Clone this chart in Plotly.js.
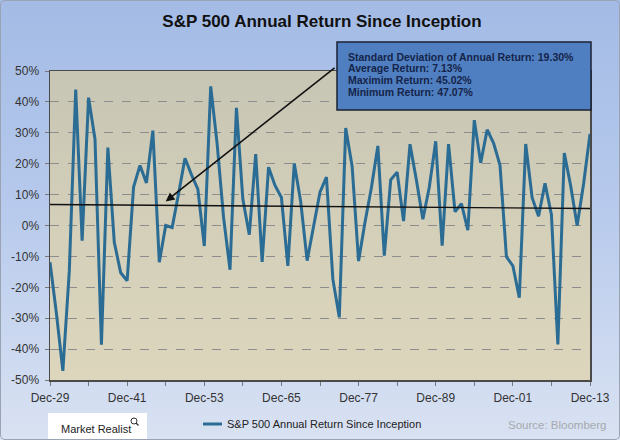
<!DOCTYPE html>
<html>
<head>
<meta charset="utf-8">
<script src="https://cdn.plot.ly/plotly-3.0.1.min.js"></script>
<style>
  html, body { margin: 0; padding: 0; }
  #wrap { position: relative; width: 620px; height: 440px; overflow: hidden;
          background: linear-gradient(to bottom, #a3bbe5 0%, #b6c9ec 45%, #d9e2f2 100%); }
  #plotbg { position: absolute; left: 50px; top: 71px; width: 540px; height: 309px;
            background: linear-gradient(to bottom, #c7c5b4 0%, #d3cfb9 50%, #ddd6bd 100%); }
  #chart { position: absolute; left: 0; top: 0; width: 620px; height: 440px; }
  #frame { position: absolute; left: 0; top: 0; width: 618px; height: 438px;
           border: 1px solid #9aa3b3; border-radius: 5px; pointer-events: none; }
</style>
</head>
<body>
<div id="wrap">
  <div id="plotbg"></div>
  <div id="chart"></div>
  <div id="frame"></div>
</div>
<script>
// ---- Data ----
const years = [1929,1930,1931,1932,1933,1934,1935,1936,1937,1938,
  1939,1940,1941,1942,1943,1944,1945,1946,1947,1948,
  1949,1950,1951,1952,1953,1954,1955,1956,1957,1958,
  1959,1960,1961,1962,1963,1964,1965,1966,1967,1968,
  1969,1970,1971,1972,1973,1974,1975,1976,1977,1978,
  1979,1980,1981,1982,1983,1984,1985,1986,1987,1988,
  1989,1990,1991,1992,1993,1994,1995,1996,1997,1998,
  1999,2000,2001,2002,2003,2004,2005,2006,2007,2008,
  2009,2010,2011,2012,2013];
const annualReturn = [-11.91,-28.48,-47.07,-14.78,44.02,-4.94,41.37,27.92,-38.59,25.21,
  -5.45,-15.29,-17.86,12.43,19.45,13.80,30.72,-11.87,0.00,-0.65,
  10.26,21.78,16.46,11.78,-6.62,45.02,26.40,2.62,-14.31,38.06,
  8.48,-2.97,23.13,-11.81,18.89,12.97,9.06,-13.09,20.09,7.66,
  -11.36,0.10,10.79,15.63,-17.37,-29.72,31.55,19.15,-11.50,1.06,
  12.31,25.77,-9.73,14.76,17.27,1.40,26.33,14.62,2.03,12.40,
  27.25,-6.56,26.31,4.46,7.06,-1.54,34.11,20.26,31.01,26.67,
  19.53,-10.14,-13.04,-23.37,26.38,8.99,3.00,13.62,3.53,-38.49,
  23.45,12.78,0.00,13.41,29.60];
const trendYears = [1929, 2013];
const trendValues = [6.8, 5.5];

const xTickVals = [1929,1941,1953,1965,1977,1989,2001,2013];
const xTickText = ["Dec-29","Dec-41","Dec-53","Dec-65","Dec-77","Dec-89","Dec-01","Dec-13"];
const yTickVals = [50,40,30,20,10,0,-10,-20,-30,-40,-50];
const yTickText = ["50%","40%","30%","20%","10%","0%","-10%","-20%","-30%","-40%","-50%"];

const seriesName = "S&P 500 Annual Return Since Inception";
const chartTitle = "S&P 500 Annual Return Since Inception";
const statLines = [
  "Standard Deviation of Annual Return: 19.30%",
  "Average Return: 7.13%",
  "Maximim Return: 45.02%",
  "Minimum Return: 47.07%"
];
const arrowHead = [1947, 7.8];
const arrowTail = [1973.5, 51.4];

// ---- Layout helpers ----
const L = 50, R = 590, T = 71, B = 380;
const px = x => (x - L) / (R - L);
const py = y => (B - y) / (B - T);
const FONT = "Liberation Sans, Arial, sans-serif";
const lineColor = "#2b6c94";

const traces = [
  { x: years, y: annualReturn, type: "scatter", mode: "lines", name: seriesName,
    line: { color: lineColor, width: 3 }, showlegend: false },
  { x: trendYears, y: trendValues, type: "scatter", mode: "lines", showlegend: false,
    line: { color: "#111111", width: 1.3 } }
];

const annotations = [
  { x: arrowHead[0], y: arrowHead[1], xref: "x", yref: "y",
    ax: arrowTail[0], ay: arrowTail[1], axref: "x", ayref: "y",
    text: "", showarrow: true, arrowhead: 2, arrowsize: 1.1, arrowwidth: 1.6, arrowcolor: "#111" }
];
const lineYs = [57, 68.5, 80, 91.5];
statLines.forEach((t, i) => annotations.push({
  xref: "paper", yref: "paper", x: px(346), y: py(lineYs[i]), xanchor: "left", yanchor: "middle",
  text: "<b>" + t + "</b>", showarrow: false,
  font: { family: FONT, size: 10.5, color: "#15244a" }
}));
annotations.push({ xref: "paper", yref: "paper", x: px(225), y: py(424), xanchor: "left", yanchor: "middle",
  text: seriesName, showarrow: false, font: { family: FONT, size: 11, color: "#222" } });
annotations.push({ xref: "paper", yref: "paper", x: px(59), y: py(429), xanchor: "left", yanchor: "middle",
  text: "Market Realist", showarrow: false, font: { family: FONT, size: 11, color: "#222" } });
annotations.push({ xref: "paper", yref: "paper", x: px(608), y: py(425), xanchor: "right", yanchor: "middle",
  text: "Source: Bloomberg", showarrow: false, font: { family: FONT, size: 11.5, color: "#a6a9ae" } });

const shapes = [
  { type: "rect", xref: "paper", yref: "paper", x0: px(337), x1: px(591), y0: py(42), y1: py(110),
    fillcolor: "#4f7fc0", line: { color: "#1a2233", width: 1.5 }, layer: "above" },
  { type: "rect", xref: "paper", yref: "paper", x0: px(48), x1: px(147), y0: py(413), y1: py(441),
    fillcolor: "#ffffff", line: { width: 0 }, layer: "below" },
  // small magnifier icon next to "Market Realist"
  { type: "circle", xref: "paper", yref: "paper", x0: px(131), x1: px(137), y0: py(424), y1: py(418),
    line: { color: "#333", width: 1 } },
  { type: "line", xref: "paper", yref: "paper", x0: px(136), x1: px(138.5), y0: py(423), y1: py(425.5),
    line: { color: "#333", width: 1.2 } },
  { type: "line", xref: "paper", yref: "paper", x0: px(203), x1: px(222), y0: py(424), y1: py(424),
    line: { color: lineColor, width: 3 } }
];

const layout = {
  width: 620, height: 440,
  margin: { l: L, r: 620 - R, t: T, b: 440 - B, pad: 0 },
  paper_bgcolor: "rgba(0,0,0,0)", plot_bgcolor: "rgba(0,0,0,0)",
  font: { family: FONT, size: 12, color: "#333" },
  title: { text: "<b>" + chartTitle + "</b>", xref: "container", yref: "container",
           x: 322 / 620, y: 1 - 21 / 440, xanchor: "center", yanchor: "middle",
           font: { family: FONT, size: 17, color: "#111" } },
  xaxis: { range: [1929, 2013], tickmode: "array", tickvals: xTickVals, ticktext: xTickText,
           ticks: "outside", ticklen: 4, tickcolor: "#777", showgrid: false, zeroline: false,
           ticklabelstandoff: 2,
           minor: { tickmode: "linear", tick0: 1929, dtick: 6, ticks: "outside", ticklen: 4, tickcolor: "#777", showgrid: false },
           showline: true, mirror: true, linecolor: "#4a4a4a", linewidth: 1.5, automargin: false,
           tickfont: { family: FONT, size: 12, color: "#333" } },
  yaxis: { range: [-50, 50], tickmode: "array", tickvals: yTickVals, ticktext: yTickText,
           ticks: "outside", ticklen: 4, tickcolor: "#777", showgrid: true, gridcolor: "#8d8d8d",
           griddash: "dash", gridwidth: 1, zeroline: false, automargin: false,
           ticklabelstandoff: 3,
           showline: true, mirror: true, linecolor: "#4a4a4a", linewidth: 1.5,
           tickfont: { family: FONT, size: 12, color: "#333" } },
  showlegend: false,
  annotations: annotations,
  shapes: shapes
};

Plotly.newPlot("chart", traces, layout, { displayModeBar: false, staticPlot: true });
</script>
</body>
</html>
